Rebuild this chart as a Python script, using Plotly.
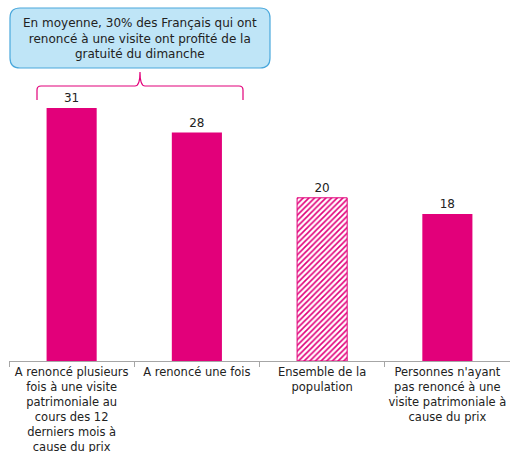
import plotly.graph_objects as go

categories = [
    "A renoncé plusieurs<br>fois à une visite<br>patrimoniale au<br>cours des 12<br>derniers mois à<br>cause du prix",
    "A renoncé une fois",
    "Ensemble de la<br>population",
    "Personnes n'ayant<br>pas renoncé à une<br>visite patrimoniale à<br>cause du prix",
]
values = [31, 28, 20, 18]
callout_text = "En moyenne, 30% des Français qui ont<br>renoncé à une visite ont profité de la<br>gratuité du dimanche"

MAGENTA = "#E2007A"
W, H = 510, 452
L, B = 9, 91
PW, PH = W - L, H - B

def px(x):
    return (x - L) / PW

def py(y):
    return (H - B - y) / PH

fig = go.Figure()
fig.add_trace(go.Bar(
    x=categories,
    y=values,
    width=0.4,
    marker=dict(
        color=MAGENTA,
        line=dict(color=MAGENTA, width=[0, 0, 1, 0]),
        pattern=dict(shape=["", "", "/", ""], fgcolor=MAGENTA, bgcolor="white",
                     size=4, solidity=0.4, fillmode="replace"),
    ),
    text=values,
    textposition="outside",
    cliponaxis=False,
    textfont=dict(family="DejaVu Sans", size=12, color="#222222"),
    hoverinfo="skip",
))

# rounded callout box
x0, x1, y0, y1, r = 10, 270, 8, 68, 10
path = (f"M {px(x0+r)},{py(y0)} L {px(x1-r)},{py(y0)} "
        f"Q {px(x1)},{py(y0)} {px(x1)},{py(y0+r)} "
        f"L {px(x1)},{py(y1-r)} Q {px(x1)},{py(y1)} {px(x1-r)},{py(y1)} "
        f"L {px(x0+r)},{py(y1)} Q {px(x0)},{py(y1)} {px(x0)},{py(y1-r)} "
        f"L {px(x0)},{py(y0+r)} Q {px(x0)},{py(y0)} {px(x0+r)},{py(y0)} Z")
fig.add_shape(type="path", xref="paper", yref="paper", path=path,
              fillcolor="#bfe5f7", line=dict(color="#4aa8dc", width=1.2), layer="above")

# curly bracket
bl, br, bc, by, bt, bb = 37, 243, 140, 86, 72, 100
bpath = (f"M {px(bl)},{py(bb)} L {px(bl)},{py(by+4)} Q {px(bl)},{py(by)} {px(bl+4)},{py(by)} "
         f"L {px(bc-5)},{py(by)} Q {px(bc)},{py(by)} {px(bc)},{py(bt)} "
         f"Q {px(bc)},{py(by)} {px(bc+5)},{py(by)} "
         f"L {px(br-4)},{py(by)} Q {px(br)},{py(by)} {px(br)},{py(by+4)} L {px(br)},{py(bb)}")
fig.add_shape(type="path", xref="paper", yref="paper", path=bpath,
              line=dict(color=MAGENTA, width=1.2))

fig.add_annotation(x=px(140), y=py(39), xref="paper", yref="paper",
                   text=callout_text, showarrow=False,
                   font=dict(family="DejaVu Sans", size=12, color="#222222"),
                   align="center", xanchor="center", yanchor="middle")

fig.update_layout(
    width=W, height=H,
    margin=dict(l=L, r=0, t=0, b=B),
    plot_bgcolor="white", paper_bgcolor="white",
    showlegend=False,
    xaxis=dict(
        showline=True, linecolor="#a6a6a6", linewidth=1,
        ticks="outside", tickson="boundaries", ticklen=5, tickcolor="#a6a6a6",
        tickangle=0, automargin=False,
        tickfont=dict(family="DejaVu Sans", size=11.5, color="#222222"),
        showgrid=False,
    ),
    yaxis=dict(range=[0, PH / 8.16], visible=False, showgrid=False, automargin=False),
)

fig.write_html("out.html", config={"displayModeBar": False},
               post_script="document.body.style.margin='0';document.body.style.overflow='hidden';")
